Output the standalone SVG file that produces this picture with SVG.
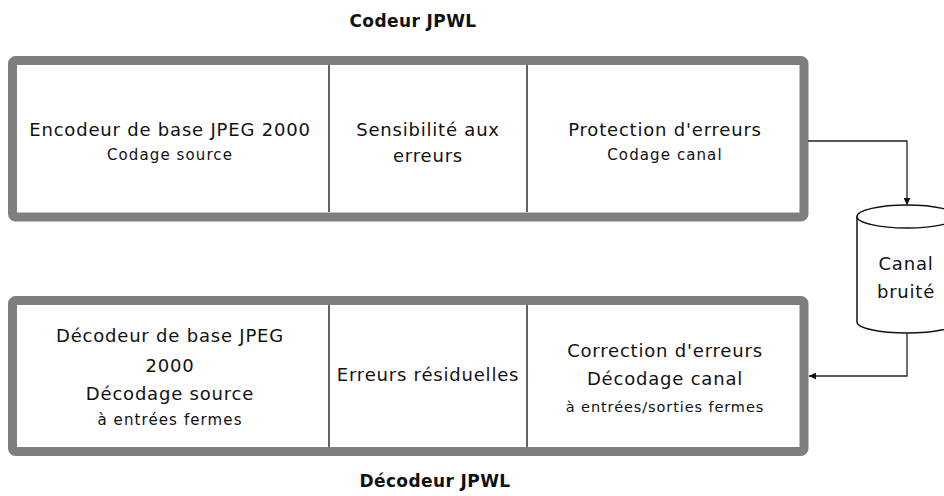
<svg xmlns="http://www.w3.org/2000/svg" width="944" height="496" viewBox="0 0 944 496">
<style>
text{font-family:"DejaVu Sans","Liberation Sans",sans-serif;fill:#111;text-anchor:middle}
.t{font-size:18px;letter-spacing:0.8px}
.s{font-size:15px;letter-spacing:1.1px}
.xs{font-size:14.5px;letter-spacing:0.9px}
.title{font-size:17px;font-weight:bold;letter-spacing:0.4px}
.frame{fill:#fff;stroke:#7f7f7f;stroke-width:9}
.div{stroke:#111;stroke-width:1.3;fill:none}
.conn{stroke:#222;stroke-width:1.3;fill:none}
.cyl{fill:#fff;stroke:#111;stroke-width:1.5}
</style>
<defs>
<marker id="ah" viewBox="0 0 10 10" refX="10" refY="5" markerWidth="7" markerHeight="7" orient="auto" markerUnits="userSpaceOnUse">
<path d="M0,0L10,5L0,10z" fill="#111"/>
</marker>
</defs>
<rect width="944" height="496" fill="#fff"/>
<text class="title" x="413" y="27">Codeur JPWL</text>
<text class="title" x="435" y="487">Décodeur JPWL</text>
<g id="encoder">
<rect class="frame" x="12.5" y="60.5" width="791.5" height="156.5" rx="3"/>
<line class="div" x1="329" y1="65" x2="329" y2="212"/>
<line class="div" x1="527" y1="65" x2="527" y2="212"/>
</g>
<g id="enc-base">
<text class="t" x="170" y="136">Encodeur de base JPEG 2000</text>
<text class="s" x="170" y="160">Codage source</text>
</g>
<g id="enc-sens">
<text class="t" x="428" y="136">Sensibilité aux</text>
<text class="t" x="428" y="162">erreurs</text>
</g>
<g id="enc-prot">
<text class="t" x="665" y="136">Protection d'erreurs</text>
<text class="s" x="665" y="160">Codage canal</text>
</g>
<g id="decoder">
<rect class="frame" x="12.5" y="300.5" width="791.5" height="151" rx="3"/>
<line class="div" x1="329" y1="305" x2="329" y2="447"/>
<line class="div" x1="527" y1="305" x2="527" y2="447"/>
</g>
<g id="dec-base">
<text class="t" x="170" y="342">Décodeur de base JPEG</text>
<text class="t" x="170" y="372">2000</text>
<text class="t" x="170" y="400">Décodage source</text>
<text class="s" x="170" y="425">à entrées fermes</text>
</g>
<g id="dec-res">
<text class="t" x="428" y="381">Erreurs résiduelles</text>
</g>
<g id="dec-corr">
<text class="t" x="665" y="357">Correction d'erreurs</text>
<text class="t" x="665" y="385">Décodage canal</text>
<text class="xs" x="665" y="412">à entrées/sorties fermes</text>
</g>
<g id="canal">
<path class="cyl" d="M857,216.5 V322 A50,11 0 0 0 957,322 V216.5"/>
<ellipse class="cyl" cx="907" cy="216.5" rx="50" ry="11.5"/>
<text class="t" x="906" y="270">Canal</text>
<text class="t" x="906" y="298">bruité</text>
</g>
<g id="connectors">
<path class="conn" d="M808,141 H907 V205" marker-end="url(#ah)"/>
<path class="conn" d="M907,333 V376 H809" marker-end="url(#ah)"/>
</g>
</svg>
